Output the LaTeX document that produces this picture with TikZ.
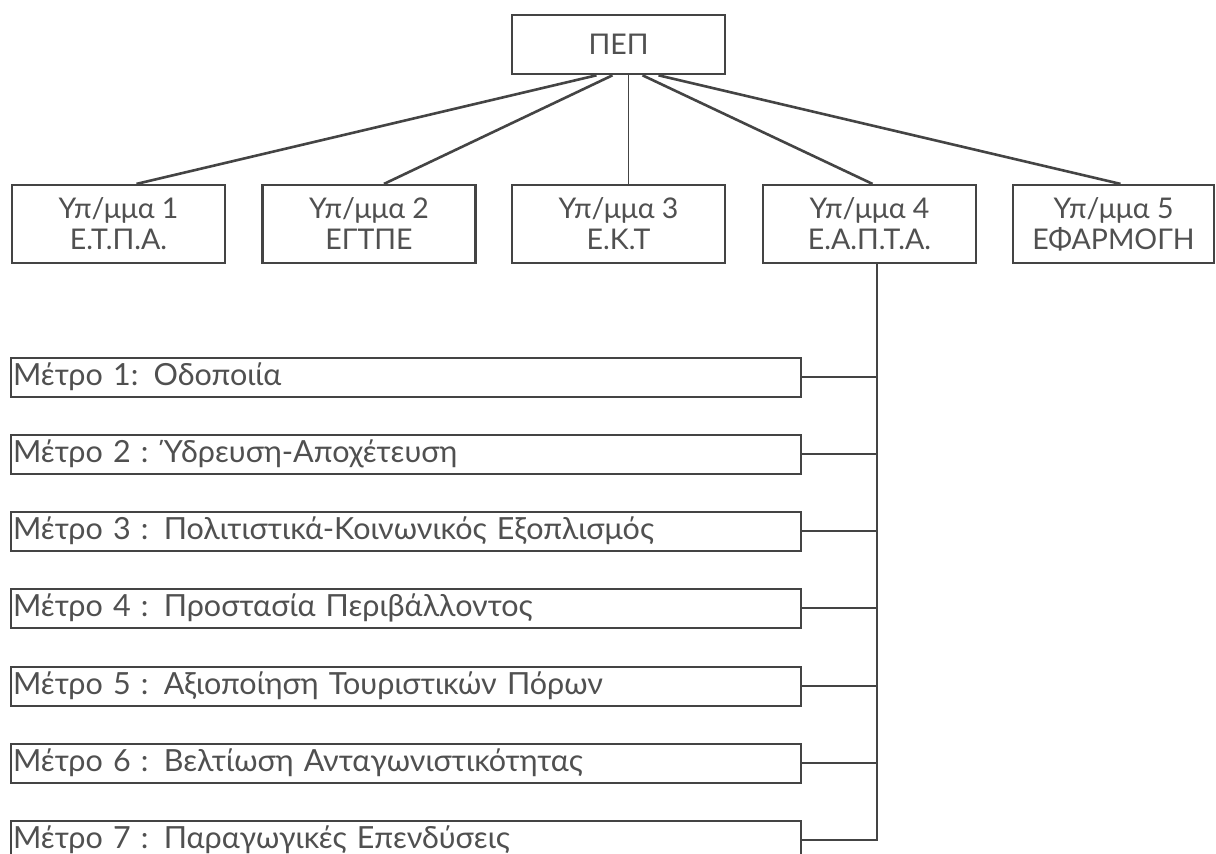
\documentclass[tikz,border=0pt]{standalone}
\usepackage{fontspec}
\setmainfont{Lato}
\definecolor{ink}{HTML}{444444}
\definecolor{txt}{HTML}{505050}
\begin{document}
\begin{tikzpicture}[x=1pt,y=-1pt,
  box/.style={draw=ink,line width=2.2pt,rectangle,inner sep=0pt,text=txt,font=\fontsize{28.5}{31}\selectfont,align=center},
  topbox/.style={box,minimum width=213pt,minimum height=59pt,line width=2.6pt},
  subbox/.style={box,minimum width=213pt,minimum height=78pt},
  metro/.style={box,minimum width=790pt,minimum height=39pt,line width=2pt,text width=786pt,align=left,font=\fontsize{30.5}{32}\selectfont},
  link/.style={draw=ink,line width=2.6pt},
  thin/.style={draw=ink,line width=1.6pt}]
\useasboundingbox (0,0) rectangle (1216,854);
\clip (0,0) rectangle (1216,854);
\fill[white] (0,0) rectangle (1216,854);
\node[topbox] (top) at (618.5,44.5) {ΠΕΠ};
\node[subbox] (s1) at (118.5,224) {Υπ/μμα 1\\Ε.Τ.Π.Α.};
\node[subbox] (s2) at (369,224) {Υπ/μμα 2\\ΕΓΤΠΕ};
\node[subbox] (s3) at (618.5,224) {Υπ/μμα 3\\Ε.Κ.Τ};
\node[subbox] (s4) at (869.5,224) {Υπ/μμα 4\\Ε.Α.Π.Τ.Α.};
\node[subbox,minimum width=201pt] (s5) at (1113.5,224) {Υπ/μμα 5\\ΕΦΑΡΜΟΓΗ};
\draw[link] ([xshift=-22pt]top.south) -- ([xshift=18pt]s1.north);
\draw[link] ([xshift=-6pt]top.south) -- ([xshift=15pt]s2.north);
\draw[thin] ([xshift=10pt]top.south) -- ([xshift=10pt]s3.north);
\draw[link] ([xshift=24pt]top.south) -- ([xshift=3pt]s4.north);
\draw[link] ([xshift=40pt]top.south) -- ([xshift=7pt]s5.north);
\foreach \i/\y/\t in {1/377/{Μέτρο 1: Οδοποιία},
  2/454/{Μέτρο 2 : Ύδρευση-Αποχέτευση},
  3/531/{Μέτρο 3 : Πολιτιστικά-Κοινωνικός Εξοπλισμός},
  4/608/{Μέτρο 4 : Προστασία Περιβάλλοντος},
  5/686/{Μέτρο 5 : Αξιοποίηση Τουριστικών Πόρων},
  6/763/{Μέτρο 6 : Βελτίωση Ανταγωνιστικότητας},
  7/840/{Μέτρο 7 : Παραγωγικές Επενδύσεις}}{
  \node[metro] (m\i) at (406,\y) {\t};
}
\coordinate (v) at ([xshift=7.5pt]s4.south);
\draw[thin] (v) |- (m7.east);
\foreach \i in {1,...,6}{\draw[thin] (m\i.east) -- (v |- m\i.east);}
\end{tikzpicture}
\end{document}
